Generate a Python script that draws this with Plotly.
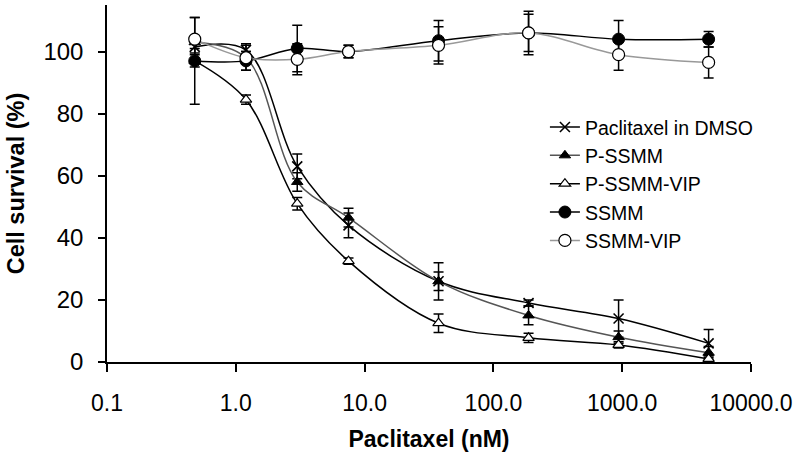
import plotly.graph_objects as go

conc = [0.48, 1.2, 3.0, 7.5, 37.5, 187.5, 937.5, 4687.5]

dmso = [101.5, 100.5, 63, 44, 26, 19, 14, 6]
dmso_err = [2, 2, 4, 4, 6, 1, 6, 4.5]
pssmm = [103, 98, 58, 46.5, 26, 15, 8, 3]
pssmm_err = [2, 2, 3, 3, 3, 3, 2, 2]
pssmm_vip = [97, 84.5, 51, 32.5, 12.5, 7.8, 5.5, 1]
pssmm_vip_err = [2, 1.5, 2, 1, 3, 1.5, 1, 1]
ssmm = [97, 97, 101, 100, 103.5, 106, 104, 104]
ssmm_err = [14, 3, 7.5, 2, 6.5, 6, 6, 2.5]
ssmm_vip = [104, 98, 97.5, 100, 102, 106, 99, 96.5]
ssmm_vip_err = [7, 4, 5, 2, 6, 7, 5, 5]

xtick_vals = [0.1, 1, 10, 100, 1000, 10000]
xtick_text = ["0.1", "1.0", "10.0", "100.0", "1000.0", "10000.0"]
ytick_vals = [0, 20, 40, 60, 80, 100]

FONT = "Liberation Sans, Arial, sans-serif"

series = [
    ("Paclitaxel in DMSO", dmso, dmso_err, "#000000",
     dict(symbol="x-thin", size=10, color="#000000", line=dict(width=1.6, color="#000000"))),
    ("P-SSMM", pssmm, pssmm_err, "#555555",
     dict(symbol="triangle-up", size=10, color="#000000", line=dict(width=1, color="#000000"))),
    ("P-SSMM-VIP", pssmm_vip, pssmm_vip_err, "#000000",
     dict(symbol="triangle-up", size=10, color="#ffffff", line=dict(width=1.2, color="#000000"))),
    ("SSMM", ssmm, ssmm_err, "#000000",
     dict(symbol="circle", size=12, color="#000000", line=dict(width=1, color="#000000"))),
    ("SSMM-VIP", ssmm_vip, ssmm_vip_err, "#999999",
     dict(symbol="circle", size=12, color="#ffffff", line=dict(width=1.2, color="#000000"))),
]

fig = go.Figure()
for name, vals, errs, lc, mk in series:
    fig.add_trace(go.Scatter(
        x=conc, y=vals, name=name, mode="lines+markers",
        line=dict(color=lc, width=1.5, shape="spline", smoothing=1),
        marker=mk,
        error_y=dict(type="data", array=errs, visible=True, color="#000000",
                     thickness=1.5, width=5),
    ))

fig.update_layout(
    width=800, height=459,
    margin=dict(l=107, r=49, t=5, b=97, autoexpand=False),
    plot_bgcolor="white", paper_bgcolor="white",
    font=dict(family=FONT, color="#000000", size=23),
    showlegend=True,
    legend=dict(x=0.68, y=0.712, xanchor="left", yanchor="top",
                font=dict(size=19.5, family=FONT), bgcolor="rgba(0,0,0,0)",
                tracegroupgap=0, itemwidth=30),
)
fig.update_xaxes(
    type="log", range=[-1, 4], tickvals=xtick_vals, ticktext=xtick_text,
    showline=True, linecolor="#000000", linewidth=1.5, ticks="outside",
    ticklen=8, tickwidth=1.5, tickcolor="#000000", showgrid=False, zeroline=False,
    tickfont=dict(size=23), ticklabelstandoff=12, automargin=False,
    title=dict(text="<b>Paclitaxel (nM)</b>", font=dict(size=23), standoff=16),
)
fig.update_yaxes(
    range=[0, 115], tickvals=ytick_vals,
    showline=True, linecolor="#000000", linewidth=1.5, ticks="outside",
    ticklen=7, tickwidth=1.5, tickcolor="#000000", showgrid=False, zeroline=False,
    tickfont=dict(size=24), ticklabelstandoff=10, automargin=False,
    title=dict(text="<b>Cell survival (%)</b>", font=dict(size=23.5), standoff=12),
)

fig.write_html("out.html", config={"displayModeBar": False},
               post_script="document.body.style.margin='0';document.body.style.padding='0';")
